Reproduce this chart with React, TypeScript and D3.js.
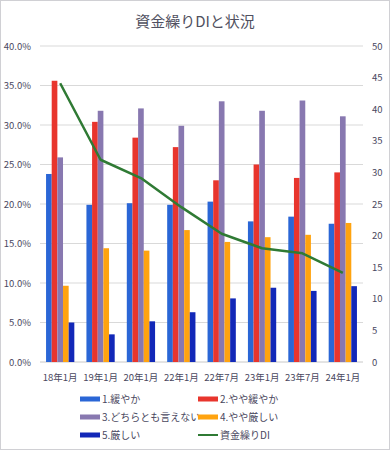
import React, { useEffect, useRef } from 'react';
import * as d3 from 'd3';

const categories = ['18年1月', '19年1月', '20年1月', '22年1月', '22年7月', '23年1月', '23年7月', '24年1月'];
const seriesNames = ['1.緩やか', '2.やや緩やか', '3.どちらとも言えない', '4.やや厳しい', '5.厳しい'];
const seriesColors = ['#2a66d6', '#e8352d', '#8878b0', '#ffa30f', '#1228b8'];
const s1 = [23.8, 19.9, 20.1, 19.9, 20.3, 17.8, 18.4, 17.5];
const s2 = [35.6, 30.4, 28.4, 27.2, 23.0, 25.0, 23.3, 24.0];
const s3 = [25.9, 31.8, 32.1, 29.9, 33.0, 31.8, 33.1, 31.1];
const s4 = [9.65, 14.4, 14.1, 16.7, 15.2, 15.8, 16.1, 17.6];
const s5 = [5.0, 3.5, 5.15, 6.3, 8.05, 9.4, 9.0, 9.6];
const diName = '資金繰りDI';
const diValues = [44.1, 32.0, 29.1, 24.5, 20.3, 18.0, 17.2, 14.1];
const leftTicks = [0, 5, 10, 15, 20, 25, 30, 35, 40];
const rightTicks = [0, 5, 10, 15, 20, 25, 30, 35, 40, 45, 50];

const W = 390;
const H = 450;

const App: React.FC = () => {
  const svgRef = useRef<SVGSVGElement>(null);

  useEffect(() => {
    if (!svgRef.current) return;
    const svg = d3.select(svgRef.current);
    svg.selectAll('*').remove();

    const font = '"Noto Sans CJK JP", "Noto Sans", sans-serif';
    const textColor = '#4a4860';
    const left = 40, right = 363, top = 46, bottom = 362;
    const seriesData = [s1, s2, s3, s4, s5];

    // outer frame
    svg.append('rect')
      .attr('x', 0.5).attr('y', 0.5)
      .attr('width', W - 1).attr('height', H - 1)
      .attr('fill', '#fff').attr('stroke', '#d0d0d4');

    svg.append('text')
      .attr('x', W / 2).attr('y', 27)
      .attr('text-anchor', 'middle')
      .attr('font-family', font).attr('font-size', 15)
      .attr('fill', '#505060')
      .text('資金繰りDIと状況');

    const x = d3.scaleBand<string>()
      .domain(categories)
      .range([left, right])
      .paddingInner(0.3)
      .paddingOuter(0.15);

    const xs = d3.scaleBand<string>()
      .domain(seriesNames)
      .range([0, x.bandwidth()]);

    const y = d3.scaleLinear().domain([0, 40]).range([bottom, top]);
    const y2 = d3.scaleLinear().domain([0, 50]).range([bottom, top]);

    // grid
    svg.append('g').selectAll('line')
      .data(leftTicks.filter(t => t > 0))
      .enter().append('line')
      .attr('x1', left).attr('x2', right)
      .attr('y1', d => y(d)).attr('y2', d => y(d))
      .attr('stroke', '#d9d9d9').attr('stroke-width', 1);

    svg.append('line')
      .attr('x1', left).attr('x2', right)
      .attr('y1', bottom).attr('y2', bottom)
      .attr('stroke', '#c8c8c8');

    // left axis
    svg.append('g').selectAll('text')
      .data(leftTicks)
      .enter().append('text')
      .attr('x', 31).attr('y', d => y(d) + 3.5)
      .attr('text-anchor', 'end')
      .attr('font-family', font).attr('font-size', 9.5)
      .attr('fill', textColor)
      .text(d => d.toFixed(1) + '%');

    // right axis
    svg.append('g').selectAll('text')
      .data(rightTicks)
      .enter().append('text')
      .attr('x', 372).attr('y', d => y2(d) + 3.5)
      .attr('text-anchor', 'start')
      .attr('font-family', font).attr('font-size', 9.5)
      .attr('fill', textColor)
      .text(d => String(d));

    // category labels
    svg.append('g').selectAll('text')
      .data(categories)
      .enter().append('text')
      .attr('x', d => (x(d) || 0) + x.bandwidth() / 2)
      .attr('y', 381)
      .attr('text-anchor', 'middle')
      .attr('font-family', font).attr('font-size', 9.5)
      .attr('fill', textColor)
      .text(d => d);

    // bars
    seriesNames.forEach((name, si) => {
      svg.append('g').selectAll('rect')
        .data(seriesData[si])
        .enter().append('rect')
        .attr('x', (_, i) => (x(categories[i]) || 0) + (xs(name) || 0))
        .attr('width', xs.bandwidth())
        .attr('y', d => y(d))
        .attr('height', d => bottom - y(d))
        .attr('fill', seriesColors[si]);
    });

    // DI line
    const line = d3.line<number>()
      .x((_, i) => (x(categories[i]) || 0) + x.bandwidth() / 2)
      .y(d => y2(d));
    svg.append('path')
      .datum(diValues)
      .attr('d', line)
      .attr('fill', 'none')
      .attr('stroke', '#2f7a34')
      .attr('stroke-width', 2.5)
      .attr('stroke-linejoin', 'round');

    // legend
    const legendItems = [...seriesNames.map((n, i) => ({ name: n, color: seriesColors[i], line: false })),
      { name: diName, color: '#2f7a34', line: true }];
    const lg = svg.append('g');
    legendItems.forEach((item, i) => {
      const col = i % 2;
      const row = Math.floor(i / 2);
      const lx = col === 0 ? 80 : 198;
      const ly = 399 + row * 18;
      if (item.line) {
        lg.append('line')
          .attr('x1', lx).attr('x2', lx + 20)
          .attr('y1', ly).attr('y2', ly)
          .attr('stroke', item.color).attr('stroke-width', 2);
      } else {
        lg.append('rect')
          .attr('x', lx).attr('y', ly - 2.5)
          .attr('width', 20).attr('height', 5)
          .attr('fill', item.color);
      }
      lg.append('text')
        .attr('x', lx + 22).attr('y', ly + 3.5)
        .attr('font-family', font).attr('font-size', 10)
        .attr('fill', textColor)
        .text(item.name);
    });
  }, []);

  return (
    <div style={{ position: 'absolute', left: 0, top: 0 }}>
      <svg ref={svgRef} width={W} height={H} style={{ display: 'block' }}></svg>
    </div>
  );
};

export default App;
